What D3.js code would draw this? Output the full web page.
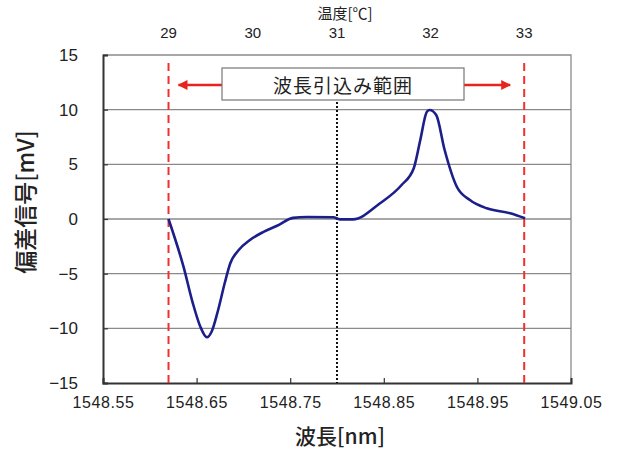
<!DOCTYPE html>
<html><head><meta charset="utf-8">
<script src="https://cdn.jsdelivr.net/npm/d3@7"></script>
<style>
html,body{margin:0;padding:0;background:#fff;}
text{font-family:"Liberation Sans",Arial,"Noto Sans CJK JP",sans-serif;fill:#222;}
.jp{font-family:"Noto Sans CJK JP",sans-serif;}
</style></head>
<body><svg id="c" width="619" height="452"></svg>
<script>
const wavelength = [1548.620,1548.636,1548.646,1548.654,1548.661,1548.666,1548.673,1548.680,1548.686,1548.695,1548.707,1548.721,1548.736,1548.753,1548.768,1548.796,1548.803,1548.817,1548.846,1548.869,1548.882,1548.889,1548.896,1548.899,1548.906,1548.915,1548.928,1548.942,1548.960,1548.985,1549.001];
const signal = [0.0,-4.36,-7.71,-9.85,-10.82,-10.31,-8.32,-5.88,-4.05,-2.84,-1.92,-1.20,-0.62,0.10,0.18,0.16,-0.03,-0.03,1.44,3.11,4.64,7.23,9.81,9.97,9.51,6.31,2.95,1.74,0.98,0.52,0.06];
const xTicks = [1548.55,1548.65,1548.75,1548.85,1548.95,1549.05];
const yTicks = [-15,-10,-5,0,5,10,15];
const tempLabels = ["29","30","31","32","33"];
const tempWavelengths = [1548.62,1548.71,1548.80,1548.90,1549.00];
const rangeLimits = [1548.62,1549.00];
const centerWavelength = 1548.80;
const rangeLabel = "波長引込み範囲";

const L=103,R=571,T=55,B=383;
const svg=d3.select("#c");
const x=d3.scaleLinear().domain([1548.55,1549.05]).range([L,R]);
const y=d3.scaleLinear().domain([-15,15]).range([B,T]);

// gridlines
svg.append("g").selectAll("line").data(yTicks.filter(v=>v>-15&&v<15)).join("line")
 .attr("x1",L).attr("x2",R).attr("y1",d=>y(d)).attr("y2",d=>y(d))
 .attr("stroke","#8a8a8a").attr("stroke-width",1.3);
// top & right border
svg.append("path").attr("d",`M${L},${T}H${R}V${B}`).attr("fill","none").attr("stroke","#8a8a8a").attr("stroke-width",1.3);

// axes
const xAxis=svg.append("g").attr("transform",`translate(0,${B})`)
 .call(d3.axisBottom(x).tickValues(xTicks).tickSize(-5).tickFormat(d3.format(".2f")).tickPadding(14));
const yAxis=svg.append("g").attr("transform",`translate(${L},0)`)
 .call(d3.axisLeft(y).tickValues(yTicks).tickSize(-5).tickFormat(d=>d<0?"\u2212"+Math.abs(d):d).tickPadding(25));
[xAxis,yAxis].forEach(a=>{
 a.select(".domain").attr("stroke","#333").attr("stroke-width",2);
 a.selectAll(".tick line").attr("stroke","#333").attr("stroke-width",1.2);
 a.selectAll(".tick text").attr("font-size",16).attr("fill","#222");
});
xAxis.selectAll(".tick text").attr("letter-spacing","0.6px");
yAxis.selectAll(".tick text").attr("font-size",17);

// top temperature labels
svg.append("g").selectAll("text").data(tempLabels).join("text")
 .attr("x",(d,i)=>x(tempWavelengths[i])).attr("y",38).attr("text-anchor","middle")
 .attr("font-size",15).text(d=>d);
svg.append("text").attr("class","jp").attr("x",345).attr("y",19).attr("text-anchor","middle")
 .attr("font-size",15).text("温度[℃]");

// red dashed limits
svg.append("g").selectAll("line").data(rangeLimits).join("line")
 .attr("x1",d=>x(d)).attr("x2",d=>x(d)).attr("y1",y(15)+8).attr("y2",B)
 .attr("stroke","#f03030").attr("stroke-width",2).attr("stroke-dasharray","8,5");
// black dotted centre
svg.append("line").attr("x1",x(centerWavelength)).attr("x2",x(centerWavelength))
 .attr("y1",102).attr("y2",B).attr("stroke","#111").attr("stroke-width",2).attr("stroke-dasharray","2,2");

// data line
svg.append("path").datum(wavelength.map((w,i)=>[w,signal[i]]))
 .attr("d",d3.line().x(d=>x(d[0])).y(d=>y(d[1])).curve(d3.curveMonotoneX))
 .attr("fill","none").attr("stroke","#1c1f8a").attr("stroke-width",2.6).attr("stroke-linejoin","round");

// arrows and box
const defs=svg.append("defs");
defs.append("marker").attr("id","ah").attr("viewBox","0 0 10 10").attr("refX",9).attr("refY",5)
 .attr("markerWidth",4).attr("markerHeight",4).attr("orient","auto-start-reverse").attr("markerUnits","strokeWidth")
 .append("path").attr("d","M0,0L10,5L0,10z").attr("fill","#e8231e");
const ay=85, boxL=222, boxR=464;
svg.append("line").attr("x1",boxL).attr("x2",x(rangeLimits[0])+10).attr("y1",ay).attr("y2",ay)
 .attr("stroke","#e8231e").attr("stroke-width",2.5).attr("marker-end","url(#ah)");
svg.append("line").attr("x1",boxR).attr("x2",x(rangeLimits[1])-14).attr("y1",ay).attr("y2",ay)
 .attr("stroke","#e8231e").attr("stroke-width",2.5).attr("marker-end","url(#ah)");
svg.append("rect").attr("x",boxL).attr("y",68).attr("width",boxR-boxL).attr("height",32)
 .attr("fill","#fff").attr("stroke","#777").attr("stroke-width",1.2);
svg.append("text").attr("class","jp").attr("x",(boxL+boxR)/2).attr("y",93).attr("text-anchor","middle")
 .attr("font-size",19).attr("letter-spacing","1px").text(rangeLabel);

// axis titles
svg.append("text").attr("class","jp").attr("x",340).attr("y",444).attr("text-anchor","middle")
 .attr("font-size",21).attr("font-weight",500).text("波長[nm]");
svg.append("text").attr("class","jp").attr("transform","translate(34,202) rotate(-90)").attr("text-anchor","middle")
 .attr("font-size",23).attr("font-weight",500).text("偏差信号[mV]");
</script></body></html>
